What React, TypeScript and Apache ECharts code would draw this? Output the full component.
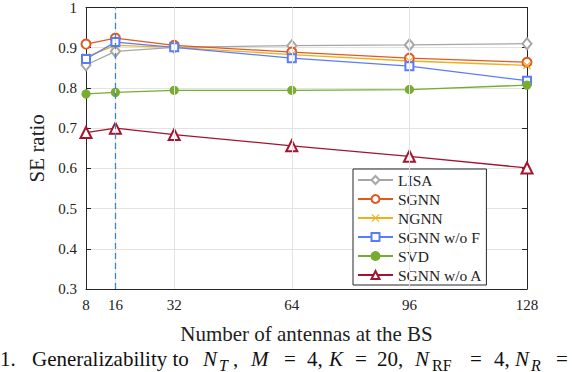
import React, { useEffect, useRef } from "react";
import * as echarts from "echarts";

const antennas = [8, 16, 32, 64, 96, 128];
const lisa = [0.857, 0.891, 0.901, 0.905, 0.907, 0.910];
const sgnn = [0.909, 0.924, 0.906, 0.889, 0.874, 0.864];
const ngnn = [0.877, 0.906, 0.901, 0.883, 0.867, 0.856];
const sgnnWoF = [0.872, 0.914, 0.901, 0.874, 0.854, 0.818];
const svd = [0.785, 0.789, 0.794, 0.794, 0.796, 0.807];
const sgnnWoA = [0.689, 0.700, 0.684, 0.656, 0.630, 0.601];
const xTicks = [8, 16, 32, 64, 96, 128];
const gridX = [16, 32, 64, 96];
const dashedAt = 16;

const FONT = "Liberation Serif";
const AXIS = "#262626";
const GRID = "#e3e3e3";
const CROSS = "path://M1,0 L5,4 L9,0 L10,1 L6,5 L10,9 L9,10 L5,6 L1,10 L0,9 L4,5 L0,1 Z";

// caption pieces: [text, x, kind] kind: n = normal, i = italic, s = subscript, si = italic subscript
const caption: [string, number, string][] = [
  ["1.", 0, "n"],
  ["Generalizability to", 32, "n"],
  ["N", 203, "i"],
  ["T", 219, "si"],
  [",", 233, "n"],
  ["M", 251, "i"],
  ["=", 284, "n"],
  ["4,", 307, "n"],
  ["K", 329, "i"],
  ["=", 355, "n"],
  ["20,", 377, "n"],
  ["N", 415, "i"],
  ["RF", 432, "s"],
  ["=", 470, "n"],
  ["4,", 494, "n"],
  ["N", 515, "i"],
  ["R", 531, "si"],
  ["=", 556, "n"],
];

export default function App() {
  const ref = useRef<HTMLDivElement>(null);
  useEffect(() => {
    const chart = echarts.init(ref.current!, null, { renderer: "svg" });
    const pts = (ys: number[]) => antennas.map((x, i) => [x, ys[i]]);
    const mk = (name: string, ys: number[], color: string, symbol: string, size: any, extra: any = {}) => ({
      name,
      type: "line",
      data: pts(ys),
      symbol,
      symbolSize: size,
      showSymbol: true,
      z: 3,
      lineStyle: { color, width: 1.3 },
      itemStyle: { color, borderColor: color, borderWidth: 1.3 },
      ...extra,
    });
    const capEls = caption.map(([text, x, kind]) => {
      const sub = kind === "s" || kind === "si";
      return {
        type: "text",
        x,
        y: sub ? 365 : 359,
        style: {
          text,
          fontFamily: FONT,
          fontSize: sub ? 16 : 21,
          fontStyle: kind === "i" || kind === "si" ? "italic" : "normal",
          fill: "#111",
          align: "left",
          verticalAlign: "middle",
        },
      };
    });
    chart.setOption({
      animation: false,
      grid: { left: 86, right: 45, top: 5, bottom: 83, show: false },
      xAxis: [
        {
          type: "value",
          min: 8,
          max: 128,
          name: "Number of antennas at the BS",
          nameLocation: "middle",
          nameGap: 34,
          nameTextStyle: { fontFamily: FONT, fontSize: 21, color: "#222" },
          axisLine: { lineStyle: { color: AXIS, width: 1 } },
          axisTick: { inside: true, length: 5, customValues: xTicks, lineStyle: { color: AXIS } },
          axisLabel: { customValues: xTicks, fontFamily: FONT, fontSize: 15, color: "#222", margin: 8 },
          splitLine: { show: false },
        },
        {
          type: "value",
          min: 8,
          max: 128,
          position: "top",
          axisLine: { show: true, lineStyle: { color: AXIS, width: 1 } },
          axisTick: { inside: true, length: 5, customValues: xTicks, lineStyle: { color: AXIS } },
          axisLabel: { show: false },
          splitLine: { show: false },
        },
      ],
      yAxis: [
        {
          type: "value",
          min: 0.3,
          max: 1,
          interval: 0.1,
          name: "SE ratio",
          nameLocation: "middle",
          nameGap: 19,
          nameTextStyle: { fontFamily: FONT, fontSize: 21, color: "#222" },
          axisLine: { show: true, lineStyle: { color: AXIS, width: 1 } },
          axisTick: { inside: true, length: 5, lineStyle: { color: AXIS } },
          axisLabel: {
            fontFamily: FONT,
            fontSize: 15,
            color: "#222",
            margin: 9,
            formatter: (v: number) => (Math.abs(v - 1) < 1e-9 ? "1" : v.toFixed(1)),
          },
          splitLine: { show: true, lineStyle: { color: GRID, width: 1 } },
        },
        {
          type: "value",
          min: 0.3,
          max: 1,
          interval: 0.1,
          position: "right",
          axisLine: { show: true, lineStyle: { color: AXIS, width: 1 } },
          axisTick: { inside: true, length: 5, lineStyle: { color: AXIS } },
          axisLabel: { show: false },
          splitLine: { show: false },
        },
      ],
      legend: {
        orient: "vertical",
        left: 353,
        top: 169,
        itemWidth: 35,
        itemHeight: 10,
        itemGap: 3,
        padding: [3, 4, 2, 4],
        backgroundColor: "#fff",
        borderColor: AXIS,
        borderWidth: 1,
        borderRadius: 0,
        textStyle: { fontFamily: FONT, fontSize: 15.5, color: "#222" },
        data: ["LISA", "SGNN", "NGNN", "SGNN w/o F", "SVD", "SGNN w/o A"],
      },
      series: [
        {
          name: "grid",
          type: "line",
          data: [],
          z: 1,
          markLine: {
            silent: true,
            symbol: ["none", "none"],
            label: { show: false },
            lineStyle: { color: GRID, type: "solid", width: 1 },
            data: gridX.map((x) => ({ xAxis: x })),
          },
        },
        mk("LISA", lisa, "#a6a6a6", "emptyDiamond", [9, 11], {
          markLine: {
            silent: true,
            symbol: ["none", "none"],
            label: { show: false },
            lineStyle: { color: "#3a86c6", type: [6, 4], width: 1.3 },
            data: [{ xAxis: dashedAt }],
          },
        }),
        mk("SGNN", sgnn, "#e2581e", "emptyCircle", 9),
        mk("NGNN", ngnn, "#EDB120", CROSS, 8, { itemStyle: { color: "#EDB120", borderWidth: 0 } }),
        mk("SGNN w/o F", sgnnWoF, "#5a7df7", "emptyRect", 8),
        mk("SVD", svd, "#77AC30", "circle", 8),
        mk("SGNN w/o A", sgnnWoA, "#A2142F", "emptyTriangle", 11),
      ],
      graphic: capEls,
    });
    return () => chart.dispose();
  }, []);
  return <div ref={ref} style={{ width: 572, height: 372, position: "absolute", left: 0, top: 0 }} />;
}
